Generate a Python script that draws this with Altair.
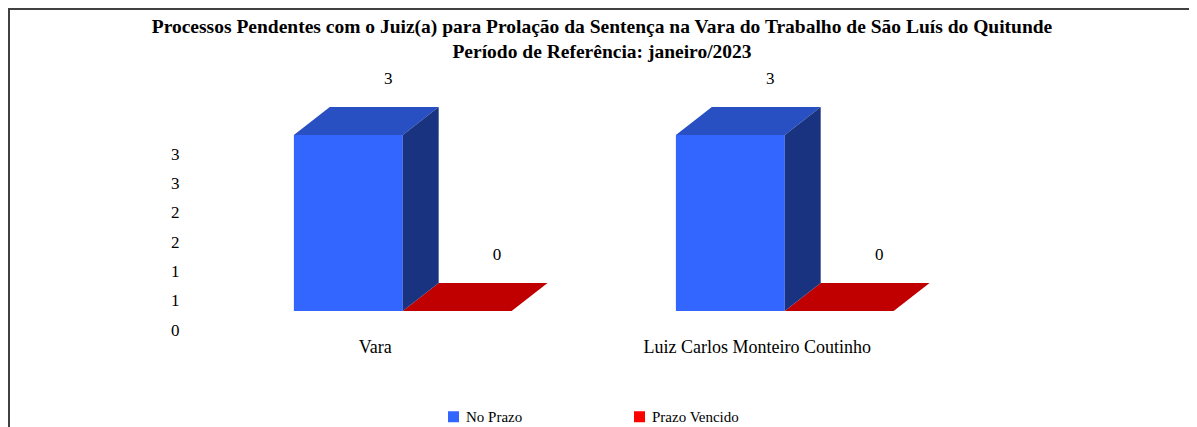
import json
import pandas as pd
import altair as alt

# ---------------- data ----------------
categories = ["Vara", "Luiz Carlos Monteiro Coutinho"]
series_names = ["No Prazo", "Prazo Vencido"]
no_prazo = [3, 3]
prazo_vencido = [0, 0]
y_ticks = [0, 0.5, 1, 1.5, 2, 2.5, 3]
title_lines = [
    "Processos Pendentes com o Juiz(a) para Prolação da Sentença na Vara do Trabalho de São Luís do Quitunde",
    "Período de Referência: janeiro/2023",
]

# ---------------- style ----------------
front_colors = ["#3366FF", "#FF0000"]
top_colors = ["#2850C2", "#C00000"]
side_colors = ["#1A3380", "#800000"]
FONT = "Liberation Serif"
BAR_W = 0.285   # bar width in category units
DX = 0.094      # 3D depth, x (category units)
DY = 0.477      # 3D depth, y (value units)

fronts, tops, sides = [], [], []
for i, cat in enumerate(categories):
    for j, (name, vals) in enumerate(zip(series_names, [no_prazo, prazo_vencido])):
        v = vals[i]
        x0 = i - BAR_W + j * BAR_W
        x1 = x0 + BAR_W
        bid = f"{i}-{j}"
        fronts.append(dict(bar=bid, series=name, x0=x0, x1=x1, v=v, base=0,
                           lx=(x0 + x1) / 2 + DX, ly=v + DY))
        for px, lo, hi in [(x0, v, v), (x0 + DX, v, v + DY), (x1, v, v + DY), (x1 + DX, v + DY, v + DY)]:
            tops.append(dict(bar=bid, x=px, lo=lo, hi=hi, fill=top_colors[j]))
        for px, lo, hi in [(x1, 0, v), (x1 + DX, DY, v + DY)]:
            sides.append(dict(bar=bid, x=px, lo=lo, hi=hi, fill=side_colors[j]))

df_front = pd.DataFrame(fronts)
df_top = pd.DataFrame(tops)
df_side = pd.DataFrame(sides)
one = pd.DataFrame({"k": [0]})

xs = alt.Scale(domain=[-0.57, 1.6], nice=False, zero=False)
ys = alt.Scale(domain=[0, 3], nice=False, zero=False)

x_axis = alt.Axis(values=[0, 1], labelExpr=json.dumps(categories) + "[datum.value]",
                  labelOffset=-28, labelPadding=27, domain=False, ticks=False, grid=False,
                  title=None, labelFont=FONT, labelFontSize=18, labelColor="black",
                  labelLimit=1000)
y_axis = alt.Axis(values=y_ticks, format=".0f", labelOffset=19, labelPadding=6,
                  domain=False, ticks=False, grid=False, title=None,
                  labelFont=FONT, labelFontSize=17, labelColor="black")

front = alt.Chart(df_front).mark_rect().encode(
    x=alt.X("x0:Q", scale=xs, axis=x_axis),
    x2="x1:Q",
    y=alt.Y("v:Q", scale=ys, axis=y_axis),
    y2="base:Q",
    color=alt.Color("series:N", scale=alt.Scale(domain=series_names, range=front_colors),
                    legend=alt.Legend(orient="none", legendX=261, legendY=274,
                                      direction="horizontal", title=None,
                                      symbolType="square", symbolSize=121,
                                      symbolStrokeWidth=0, labelFont=FONT,
                                      labelFontSize=15, labelColor="black",
                                      columnPadding=109, labelOffset=5)),
)

top = alt.Chart(df_top).mark_area(orient="vertical", interpolate="linear").encode(
    x=alt.X("x:Q", scale=xs, axis=x_axis),
    y=alt.Y("lo:Q", scale=ys, axis=y_axis),
    y2="hi:Q",
    detail="bar:N",
    color=alt.Color("fill:N", scale=None),
)

side = alt.Chart(df_side).mark_area(orient="vertical", interpolate="linear").encode(
    x=alt.X("x:Q", scale=xs, axis=x_axis),
    y=alt.Y("lo:Q", scale=ys, axis=y_axis),
    y2="hi:Q",
    detail="bar:N",
    color=alt.Color("fill:N", scale=None),
)

labels = alt.Chart(df_front).mark_text(font=FONT, fontSize=17, color="black",
                                       dx=4, dy=-28, baseline="middle").encode(
    x=alt.X("lx:Q", scale=xs, axis=x_axis),
    y=alt.Y("ly:Q", scale=ys, axis=y_axis),
    text=alt.Text("v:Q", format="d"),
)

title = alt.Chart(one).mark_text(text=title_lines, lineHeight=25, font=FONT, fontSize=19.5,
                                 fontWeight="bold", align="center", baseline="middle",
                                 color="black").encode(
    x=alt.value(417), y=alt.value(-108))

border_top = alt.Chart(one).mark_rule(color="#404040", strokeWidth=2).encode(
    x=alt.value(-177), x2=alt.value(1004), y=alt.value(-126))
border_left = alt.Chart(one).mark_rule(color="#404040", strokeWidth=2).encode(
    x=alt.value(-176), y=alt.value(-127), y2=alt.value(292))

chart = alt.layer(border_top, border_left, front, top, side, labels, title).properties(
    width=829, height=176,
    padding={"left": 177, "top": 127, "right": 175, "bottom": 116},
    autosize=alt.AutoSizeParams(type="none"),
).configure_view(strokeWidth=0)

chart.save("out.html", embed_options={"renderer": "svg", "actions": False})
